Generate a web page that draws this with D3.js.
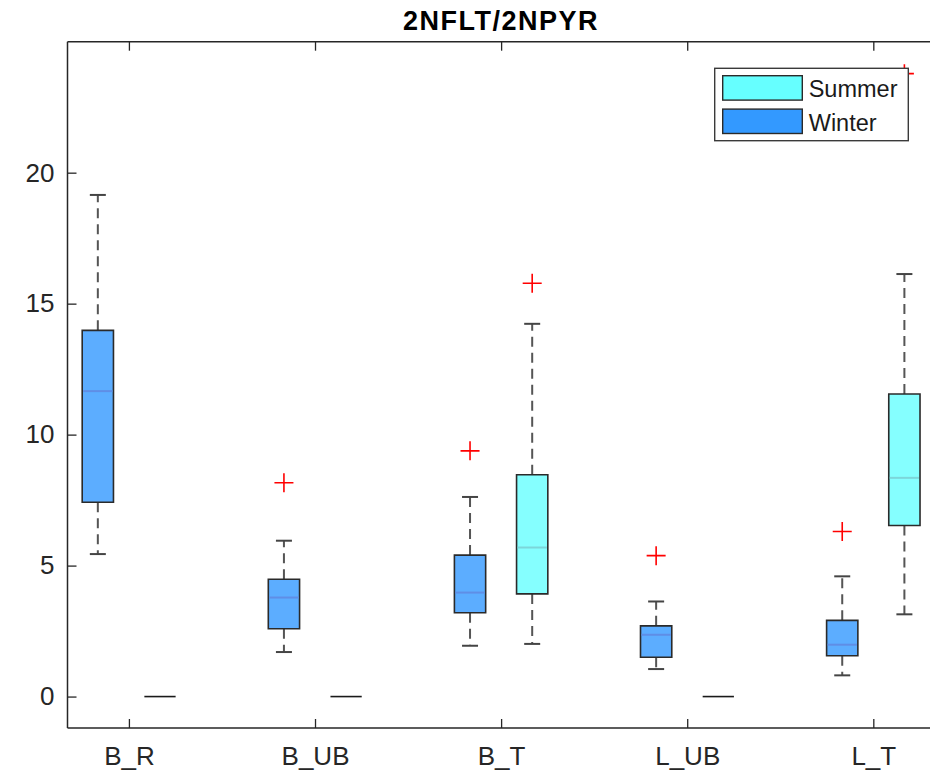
<!DOCTYPE html>
<html>
<head>
<meta charset="utf-8">
<script src="https://cdn.jsdelivr.net/npm/d3@7"></script>
<style>
  html, body { margin: 0; padding: 0; background: #fff; }
  svg { display: block; font-family: "Liberation Sans", Arial, Helvetica, sans-serif; }
</style>
</head>
<body>
<svg id="chart" width="930" height="774"></svg>
<script>
// ---- data ----
const categories = ["B_R", "B_UB", "B_T", "L_UB", "L_T"];
const seriesNames = ["Summer", "Winter"];
// [lower whisker, Q1, median, Q3, upper whisker]
const winterStats = [
  [5.44, 7.42, 11.66, 13.98, 19.15],
  [1.70, 2.59, 3.78, 4.48, 5.95],
  [1.94, 3.20, 3.97, 5.40, 7.62],
  [1.05, 1.50, 2.36, 2.70, 3.63],
  [0.81, 1.56, 1.98, 2.91, 4.59]
];
const winterOutliers = [[], [8.16], [9.38], [5.38], [6.30]];
const summerStats = [
  [0, 0, 0, 0, 0],
  [0, 0, 0, 0, 0],
  [2.01, 3.92, 5.69, 8.47, 14.23],
  [0, 0, 0, 0, 0],
  [3.14, 6.53, 8.35, 11.55, 16.13]
];
const summerOutliers = [[], [], [15.78], [], [23.78]];
const yTicks = [0, 5, 10, 15, 20];
const chartTitle = "2NFLT/2NPYR";

// ---- layout ----
const svg = d3.select("#chart");
const mLeft = 67.5, mBottom = 728, mTop = 41.7, mRight = 998;
const x = d3.scaleLinear().domain([0.67, 5.67]).range([mLeft, mRight]);
const y = d3.scaleLinear().domain([-1.2, 25]).range([mBottom, mTop]);
const offset = 0.167, halfBox = 0.084, halfCap = 0.043;

const colors = {
  Summer: { fill: "#66ffff", median: "#7cd6da" },
  Winter: { fill: "#3399ff", median: "#5f8ee6" }
};
const axisColor = "#262626";

// title
svg.append("text")
  .attr("x", x(3)).attr("y", 30)
  .attr("text-anchor", "middle")
  .attr("font-size", 27).attr("font-weight", "bold")
  .attr("letter-spacing", 1.5)
  .attr("fill", "#000")
  .text(chartTitle);

const plot = svg.append("g");

function drawSeries(stats, outliers, name, dir) {
  const c = colors[name];
  stats.forEach((s, i) => {
    const cx = x(i + 1 + dir * offset);
    const x0 = x(i + 1 + dir * offset - halfBox), x1 = x(i + 1 + dir * offset + halfBox);
    const c0 = x(i + 1 + dir * offset - halfCap), c1 = x(i + 1 + dir * offset + halfCap);
    const [lo, q1, med, q3, hi] = s;
    const g = plot.append("g");
    const flat = (q3 - q1) === 0 && (hi - lo) === 0;
    if (!flat) {
      g.append("line").attr("x1", cx).attr("x2", cx).attr("y1", y(q3)).attr("y2", y(hi))
        .attr("stroke", "#555").attr("stroke-width", 2).attr("stroke-dasharray", "10,6");
      g.append("line").attr("x1", cx).attr("x2", cx).attr("y1", y(q1)).attr("y2", y(lo))
        .attr("stroke", "#555").attr("stroke-width", 2).attr("stroke-dasharray", "10,6");
      [lo, hi].forEach(v => {
        g.append("line").attr("x1", c0).attr("x2", c1).attr("y1", y(v)).attr("y2", y(v))
          .attr("stroke", "#444").attr("stroke-width", 2);
      });
      g.append("path")
        .attr("d", `M${x0},${y(q3)}H${x1}V${y(q1)}H${x0}Z`)
        .attr("fill", c.fill).attr("fill-opacity", 0.8)
        .attr("stroke", "#2a2a2a").attr("stroke-width", 1.6);
      g.append("line").attr("x1", x0 + 1).attr("x2", x1 - 1).attr("y1", y(med)).attr("y2", y(med))
        .attr("stroke", c.median).attr("stroke-width", 2);
    } else {
      g.append("line").attr("x1", x0).attr("x2", x1).attr("y1", y(med)).attr("y2", y(med))
        .attr("stroke", "#1a1a1a").attr("stroke-width", 1.6);
    }
    outliers[i].forEach(v => {
      const oy = y(v);
      g.append("path")
        .attr("d", `M${cx - 9.5},${oy}H${cx + 9.5}M${cx},${oy - 9.5}V${oy + 9.5}`)
        .attr("stroke", "#ff0000").attr("stroke-width", 1.6).attr("fill", "none");
    });
  });
}

drawSeries(winterStats, winterOutliers, "Winter", -1);
drawSeries(summerStats, summerOutliers, "Summer", 1);

// axes frame
svg.append("line").attr("x1", mLeft).attr("x2", mLeft).attr("y1", mTop).attr("y2", mBottom)
  .attr("stroke", axisColor).attr("stroke-width", 1.5);
svg.append("line").attr("x1", mLeft).attr("x2", mRight).attr("y1", mBottom).attr("y2", mBottom)
  .attr("stroke", axisColor).attr("stroke-width", 1.5);
svg.append("line").attr("x1", mLeft).attr("x2", mRight).attr("y1", mTop).attr("y2", mTop)
  .attr("stroke", axisColor).attr("stroke-width", 1.5);

// y axis
const yAxis = d3.axisLeft(y).tickValues(yTicks).tickSizeInner(-9).tickSizeOuter(0).tickPadding(13);
const gy = svg.append("g").attr("transform", `translate(${mLeft},0)`).call(yAxis);
gy.select(".domain").remove();
gy.selectAll(".tick line").attr("stroke", axisColor).attr("stroke-width", 1.3);
gy.selectAll(".tick text").attr("font-size", 26).attr("fill", "#262626")
  .attr("font-family", "'Liberation Sans', Arial, sans-serif");

// x axis (bottom)
const xAxis = d3.axisBottom(x).tickValues(d3.range(1, categories.length + 1))
  .tickFormat(d => categories[d - 1]).tickSizeInner(-9).tickSizeOuter(0).tickPadding(19);
const gx = svg.append("g").attr("transform", `translate(0,${mBottom})`).call(xAxis);
gx.select(".domain").remove();
gx.selectAll(".tick line").attr("stroke", axisColor).attr("stroke-width", 1.3);
gx.selectAll(".tick text").attr("font-size", 26).attr("fill", "#262626")
  .attr("font-family", "'Liberation Sans', Arial, sans-serif");

// top ticks
const xTopAxis = d3.axisTop(x).tickValues(d3.range(1, categories.length + 1))
  .tickFormat("").tickSizeInner(-9).tickSizeOuter(0);
const gt = svg.append("g").attr("transform", `translate(0,${mTop})`).call(xTopAxis);
gt.select(".domain").remove();
gt.selectAll(".tick line").attr("stroke", axisColor).attr("stroke-width", 1.3);

// legend
const lg = svg.append("g").attr("transform", "translate(714.7,68.3)");
lg.append("rect").attr("x", 0).attr("y", 0).attr("width", 193.6).attr("height", 72.4)
  .attr("fill", "#fff").attr("stroke", "#3a3a3a").attr("stroke-width", 1.4);
seriesNames.forEach((n, i) => {
  lg.append("rect").attr("x", 8).attr("y", 7.4 + i * 33.4).attr("width", 79.6).attr("height", 24.4)
    .attr("fill", colors[n].fill).attr("stroke", "#2a2a2a").attr("stroke-width", 1.4);
  lg.append("text").attr("x", 94).attr("y", 29 + i * 33.6)
    .attr("font-size", 23.5).attr("fill", "#1a1a1a").text(n);
});
</script>
</body>
</html>
